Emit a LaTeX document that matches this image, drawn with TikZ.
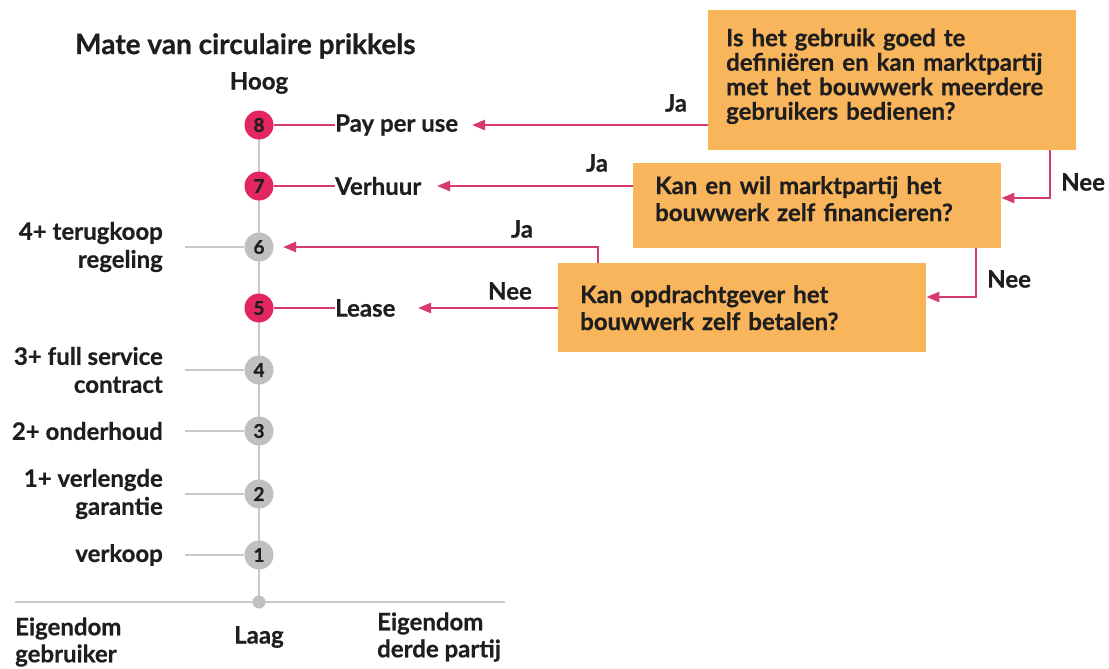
\documentclass[tikz,border=0pt]{standalone}
\usepackage{fontspec}
\setmainfont{Lato}[BoldFeatures={FakeBold=0.6}]
\usetikzlibrary{arrows.meta}
\definecolor{pinkl}{HTML}{D63A6E}
\definecolor{redc}{HTML}{E2265F}
\definecolor{grayc}{HTML}{C0C0C0}
\definecolor{grayl}{HTML}{C8C8C8}
\definecolor{boxc}{HTML}{F8B55C}
\definecolor{txt}{HTML}{1E1E1E}
\begin{document}
\begin{tikzpicture}[x=1pt,y=-1pt,
  every node/.style={text=txt,font=\bfseries\fontsize{24}{28}\selectfont},
  num/.style={circle,minimum size=29pt,inner sep=0pt,font=\bfseries\fontsize{19}{19}\selectfont},
  hi/.style={num,fill=redc},
  lo/.style={num,fill=grayc},
  lab/.style={anchor=east,align=right,inner sep=0pt},
  rlab/.style={anchor=west,inner sep=0pt},
  qbox/.style={fill=boxc,anchor=north west,align=left,inner xsep=22pt,inner ysep=0pt,text width=324pt},
  gline/.style={draw=grayl,line width=2.4pt},
  pline/.style={draw=pinkl,line width=2.4pt},
  parrow/.style={pline,-{Triangle[length=13pt,width=10pt]}},
  small/.style={inner sep=0pt}
]
\useasboundingbox (0,0) rectangle (1109,669);

% title
\node[anchor=west,inner sep=0pt,font=\bfseries\fontsize{28}{32}\selectfont] (title) at (75,46) {Mate van circulaire prikkels};
\node[inner sep=0pt] (hoog) at (259,83) {Hoog};

% axis
\coordinate (base) at (259,602);
\coordinate (bl) at (15,602);
\coordinate (br) at (505,602);
\draw[gline] (bl) -- (br);
\draw[gline] (259,125) -- (base);
\fill[grayc] (base) circle (6.5pt);

% circles
\node[hi] (c8) at (259,125) {8};
\node[hi] (c7) at (259,186) {7};
\node[lo] (c6) at (259,247) {6};
\node[hi] (c5) at (259,308) {5};
\node[lo] (c4) at (259,370) {4};
\node[lo] (c3) at (259,431) {3};
\node[lo] (c2) at (259,494) {2};
\node[lo] (c1) at (259,555) {1};

% left labels
\node[lab] (l6) at (163,247) {4+ terugkoop\\regeling};
\node[lab] (l4) at (163,370) {3+ full service\\contract};
\node[lab] (l3) at (163,431) {2+ onderhoud};
\node[lab] (l2) at (163,494) {1+ verlengde\\garantie};
\node[lab] (l1) at (163,555) {verkoop};
\foreach \i in {6,4,3,2,1}{
  \coordinate (g\i) at (185,0 |- c\i);
  \draw[gline] (g\i) -- (c\i);
}

% right labels
\node[rlab] (r8) at (335,125) {Pay per use};
\node[rlab] (r7) at (335,186) {Verhuur};
\node[rlab] (r5) at (335,308) {Lease};
\draw[pline] (c8) -- (r8);
\draw[pline] (c7) -- (r7);
\draw[pline] (c5) -- (r5);

% bottom labels
\node[anchor=west,align=left,inner sep=0pt,font=\bfseries\fontsize{24}{27}\selectfont] (eg) at (15,642) {Eigendom\\gebruiker};
\node[inner sep=0pt] (laag) at (259,637) {Laag};
\node[anchor=west,align=left,inner sep=0pt,font=\bfseries\fontsize{24}{27}\selectfont] (ed) at (377,637) {Eigendom\\derde partij};

% boxes
\node[qbox,minimum height=140pt,inner xsep=18pt,text width=332pt,font=\bfseries\fontsize{24}{24.5}\selectfont] (b1) at (708,10) {Is het gebruik goed te\\definiëren en kan marktpartij\\met het bouwwerk meerdere\\gebruikers bedienen?\vspace{8pt}};
\node[qbox,minimum height=85pt,font=\bfseries\fontsize{24}{27}\selectfont] (b2) at (633,163) {Kan en wil marktpartij het\\bouwwerk zelf financieren?\vspace{14pt}};
\node[qbox,minimum height=89pt,font=\bfseries\fontsize{24}{27}\selectfont] (b3) at (558,263) {Kan opdrachtgever het\\bouwwerk zelf betalen?};

% arrows
\coordinate (t8) at (472,125);
\coordinate (t7) at (437,186);
\coordinate (t6) at (283,247);
\coordinate (t5) at (418,308);
\draw[parrow] (b1.west |- t8) -- (t8);
\draw[parrow] (b2.west |- t7) -- (t7);
\draw[parrow] (b3.west |- t5) -- (t5);
\coordinate (j3) at (598,247);
\draw[parrow] (b3.north -| j3) -- (j3) -- (t6);
\coordinate (n1) at (1050,198);
\draw[parrow] (b1.south -| n1) -- (n1) -- (b2.east |- n1);
\coordinate (n2) at (976,297);
\draw[parrow] (b2.south -| n2) -- (n2) -- (b3.east |- n2);

% connector labels
\node[small] (ja1) at (676,103) {Ja};
\node[small] (ja2) at (597,163) {Ja};
\node[small] (ja3) at (522,229) {Ja};
\node[small] (nee3) at (510,291) {Nee};
\node[small,anchor=west] (nee1) at (1061,182) {Nee};
\node[small,anchor=west] (nee2) at (987,279) {Nee};
\end{tikzpicture}
\end{document}
